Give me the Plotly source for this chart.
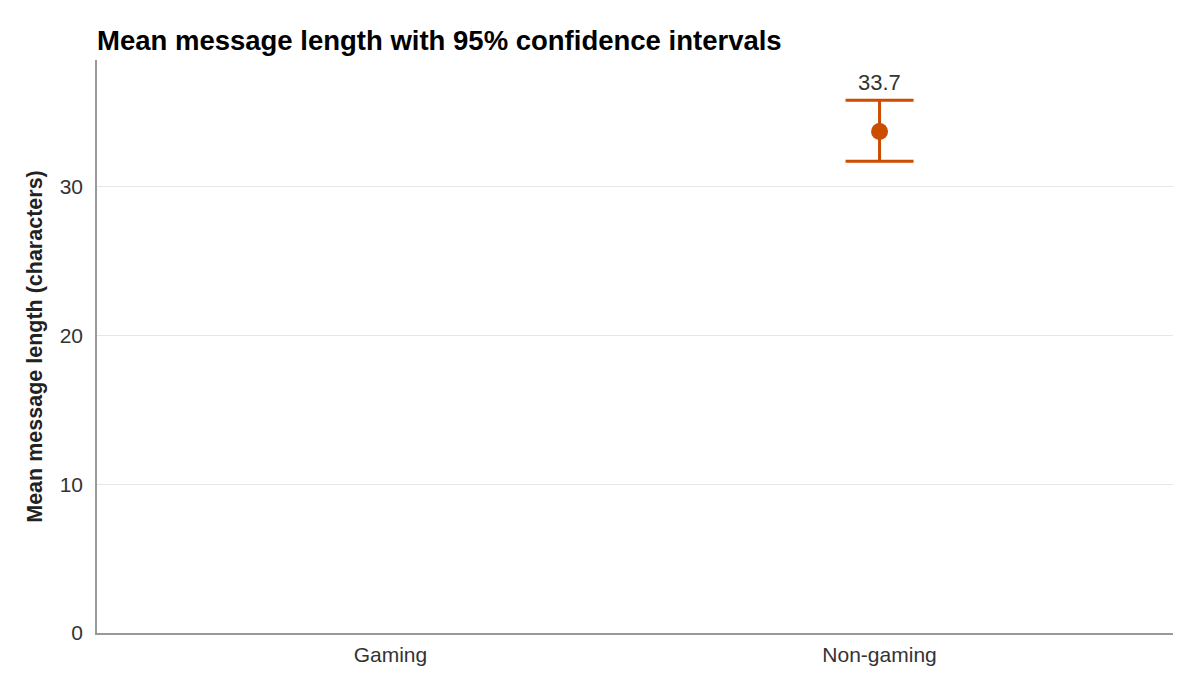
import plotly.graph_objects as go

# Mean message length per group with 95% CI (Gaming has no estimate)
groups = ["Gaming", "Non-gaming"]
means = [None, 33.7]
ci_low = [None, 31.7]
ci_high = [None, 35.8]

color = "#CC4C02"
font = "Liberation Sans, Arial, sans-serif"

err_plus = [None if m is None else h - m for m, h in zip(means, ci_high)]
err_minus = [None if m is None else m - l for m, l in zip(means, ci_low)]

fig = go.Figure(go.Scatter(
    x=groups,
    y=means,
    mode="markers",
    marker=dict(color=color, size=17),
    error_y=dict(type="data", symmetric=False, array=err_plus, arrayminus=err_minus,
                 color=color, thickness=3, width=34),
    showlegend=False,
))

for g, m, h in zip(groups, means, ci_high):
    if m is None:
        continue
    fig.add_annotation(x=g, y=h, text=f"{m:.1f}", showarrow=False,
                       yanchor="bottom", yshift=3,
                       font=dict(size=22, color="#333333", family=font))

fig.update_layout(
    width=1200, height=690,
    plot_bgcolor="white", paper_bgcolor="white",
    margin=dict(l=89, r=35, t=52, b=65),
    font=dict(family=font, color="#333333"),
    title=dict(text="<b>Mean message length with 95% confidence intervals</b>",
               x=89 / 1200, xanchor="left", y=1 - 32 / 690, yanchor="middle",
               font=dict(size=27.5, color="black", family=font)),
)
fig.update_xaxes(
    categoryorder="array", categoryarray=groups, range=[-0.6, 1.6],
    showline=True, linecolor="#999999", linewidth=1.5, showgrid=False,
    ticks="", ticklabelstandoff=2, tickfont=dict(size=21, color="#333333"),
)
fig.update_yaxes(
    range=[0, 38.5], tickvals=[0, 10, 20, 30],
    showline=True, linecolor="#999999", linewidth=1.5,
    showgrid=True, gridcolor="#e6e6e6", gridwidth=1, zeroline=False,
    ticks="", ticklabelstandoff=8, tickfont=dict(size=21, color="#333333"),
    title=dict(text="<b>Mean message length (characters)</b>",
               font=dict(size=21.5, color="#222222"), standoff=11),
)

fig.write_html("out.html")
